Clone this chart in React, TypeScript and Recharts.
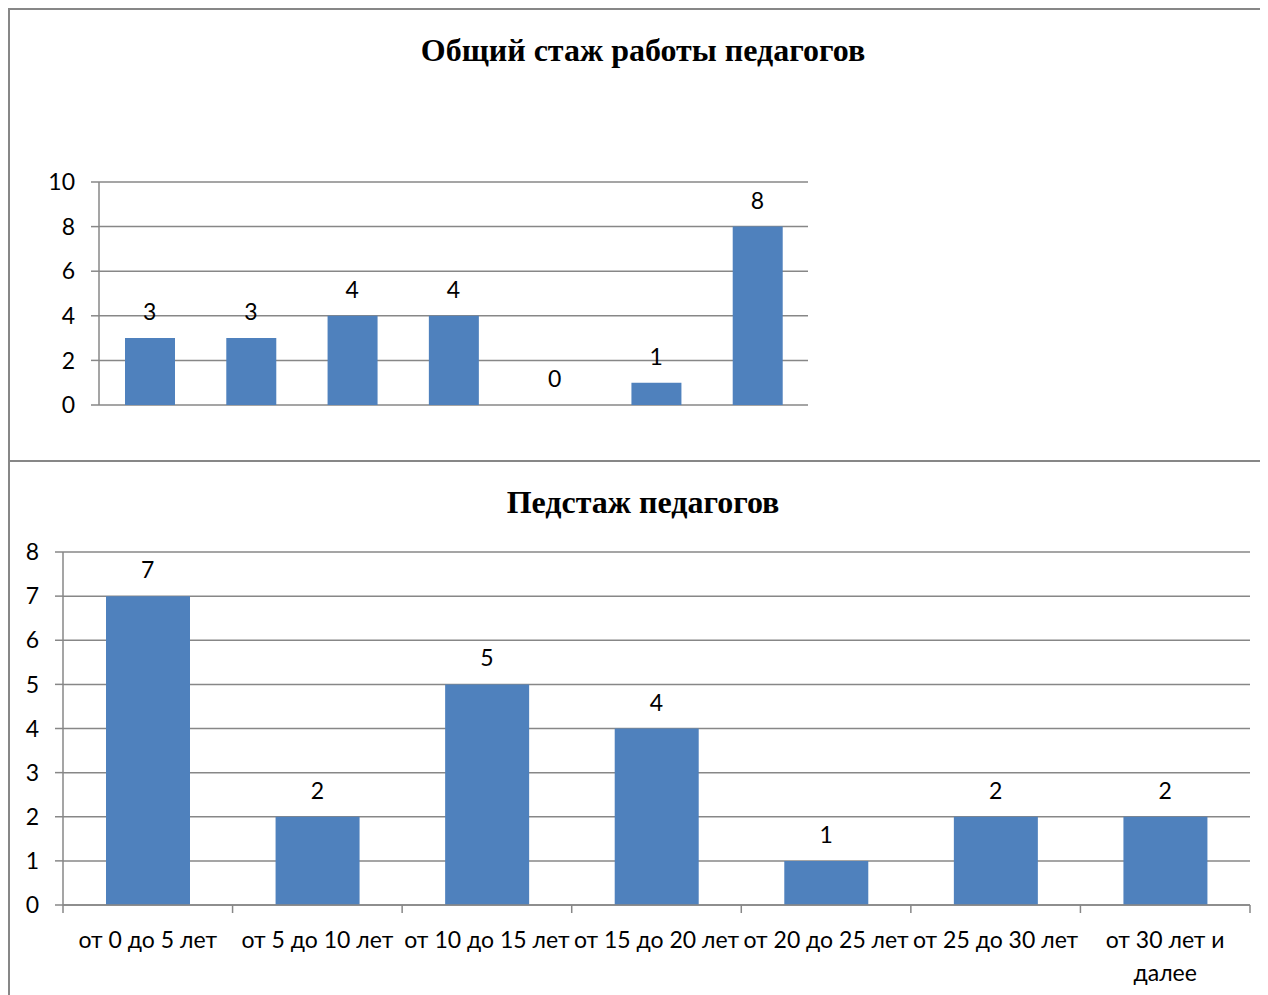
import React from 'react';
import { ComposedChart, Bar, Line, XAxis, YAxis, CartesianGrid, LabelList } from 'recharts';

const categories = ['от 0 до 5 лет', 'от 5 до 10 лет', 'от 10 до 15 лет', 'от 15 до 20 лет', 'от 20 до 25 лет', 'от 25 до 30 лет', 'от 30 лет и далее'];
const totalValues = [3, 3, 4, 4, 0, 1, 8];
const pedValues = [7, 2, 5, 4, 1, 2, 2];
const totalTicks = [0, 2, 4, 6, 8, 10];
const pedTicks = [0, 1, 2, 3, 4, 5, 6, 7, 8];
const totalTitle = 'Общий стаж работы педагогов';
const pedTitle = 'Педстаж педагогов';

const totalData = categories.map((c, i) => ({ name: c, value: totalValues[i] }));
const pedData = categories.map((c, i) => ({ name: c, value: pedValues[i] }));

const FONT = 'Lato, "Liberation Sans", sans-serif';
const GRID = '#878787';
const BAR = '#4F81BD';
const FS = 23;

function wrapWords(text: string, maxChars: number): string[] {
  const words = text.split(' ');
  const lines: string[] = [];
  let cur = '';
  for (const w of words) {
    const next = cur ? cur + ' ' + w : w;
    if (next.length > maxChars && cur) {
      lines.push(cur);
      cur = w;
    } else {
      cur = next;
    }
  }
  if (cur) lines.push(cur);
  return lines;
}

const CatTick = (props: any) => {
  const { x, y, payload, index } = props;
  const half = payload && payload.offset ? payload.offset : 1187 / 14;
  const lines = wrapWords(String(payload.value), 15);
  const axisY = y - 8;
  return (
    <g>
      <line x1={x - half} x2={x - half} y1={axisY} y2={axisY + 8} stroke={GRID} strokeWidth={1.5} />
      {index === categories.length - 1 && (
        <line x1={x + half} x2={x + half} y1={axisY} y2={axisY + 8} stroke={GRID} strokeWidth={1.5} />
      )}
      <text x={x} y={axisY + 43} textAnchor="middle" fontFamily={FONT} fontSize={FS} fill="#000">
        {lines.map((l, i) => (
          <tspan key={i} x={x} dy={i === 0 ? 0 : 33}>{l}</tspan>
        ))}
      </text>
    </g>
  );
};

const PointLabel = (props: any) => {
  const { x, y, value } = props;
  return (
    <text x={x} y={y - 18} textAnchor="middle" fontFamily={FONT} fontSize={FS} fill="#000">
      {String(value)}
    </text>
  );
};

const titleStyle: React.CSSProperties = {
  position: 'absolute', left: 0, width: 1270, textAlign: 'center',
  fontFamily: '"Liberation Serif", serif', fontWeight: 'bold', fontSize: 32, lineHeight: '36px',
};

export default function App() {
  return (
    <div style={{ position: 'relative', width: 1260, height: 987, background: '#fff' }}>
      <style>{'html,body{overflow:hidden}'}</style>
      <div style={{ position: 'absolute', left: 0, top: 0, width: 1272, height: 453, borderTop: `2.5px solid ${GRID}`, borderLeft: `2.5px solid ${GRID}`, boxSizing: 'border-box' }} />
      <div style={{ position: 'absolute', left: 0, top: 452, width: 1272, height: 535, borderTop: `2.5px solid ${GRID}`, borderLeft: `2.5px solid ${GRID}`, boxSizing: 'border-box' }} />
      <div style={{ ...titleStyle, top: 24 }}>{totalTitle}</div>
      <div style={{ ...titleStyle, top: 476 }}>{pedTitle}</div>

      <div style={{ position: 'absolute', left: 0, top: 0 }}>
        <ComposedChart width={1260} height={453} data={totalData} margin={{ top: 174, right: 460, bottom: 56, left: 0 }}>
          <CartesianGrid horizontal vertical={false} stroke={GRID} strokeWidth={1.5} />
          <XAxis dataKey="name" hide />
          <YAxis domain={[0, 10]} ticks={totalTicks} width={91} tickSize={8} stroke={GRID} strokeWidth={1.5}
            tick={{ fontFamily: FONT, fontSize: FS, fill: '#000' }} tickMargin={16} interval={0} />
          <Bar dataKey="value" fill={BAR} isAnimationActive={false} barSize={50} />
          <Line dataKey="value" stroke="none" dot={false} activeDot={false} isAnimationActive={false} legendType="none">
            <LabelList dataKey="value" content={PointLabel} />
          </Line>
        </ComposedChart>
      </div>

      <div style={{ position: 'absolute', left: 0, top: 453 }}>
        <ComposedChart width={1260} height={534} data={pedData} margin={{ top: 91, right: 18, bottom: 0, left: 0 }}>
          <CartesianGrid horizontal vertical={false} stroke={GRID} strokeWidth={1.5} />
          <XAxis dataKey="name" height={90} interval={0} tickLine={false} stroke={GRID} strokeWidth={1.5} tick={CatTick} tickSize={8} tickMargin={0} />
          <YAxis domain={[0, 8]} ticks={pedTicks} width={55} tickSize={8} stroke={GRID} strokeWidth={1.5}
            tick={{ fontFamily: FONT, fontSize: FS, fill: '#000' }} tickMargin={16} interval={0} />
          <Bar dataKey="value" fill={BAR} isAnimationActive={false} barSize={84} />
          <Line dataKey="value" stroke="none" dot={false} activeDot={false} isAnimationActive={false} legendType="none">
            <LabelList dataKey="value" content={PointLabel} />
          </Line>
        </ComposedChart>
      </div>
    </div>
  );
}
